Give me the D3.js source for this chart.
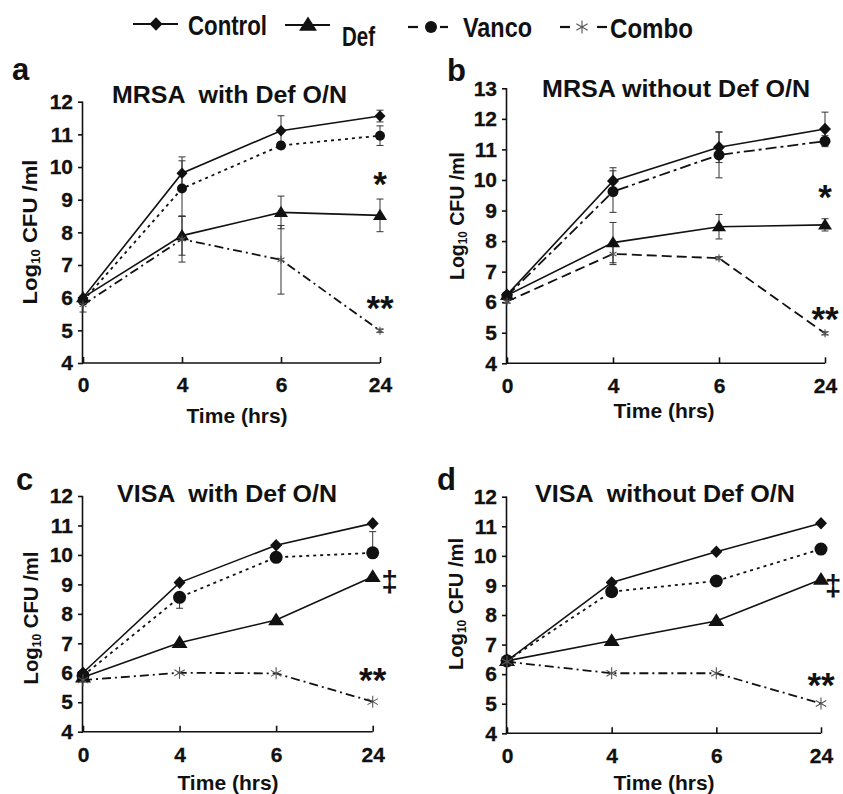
<!DOCTYPE html>
<html>
<head>
<meta charset="utf-8">
<script src="https://cdn.jsdelivr.net/npm/d3@7"></script>
<style>
  html, body { margin: 0; padding: 0; background: #fff; }
  svg text { font-family: "Liberation Sans", Arial, "Helvetica", sans-serif; font-weight: bold; fill: #111; }
</style>
</head>
<body>
<svg id="chart" width="843" height="794"></svg>
<script>
// ---------- data ----------
const times = ["0", "4", "6", "24"];
const seriesNames = ["Control", "Def", "Vanco", "Combo"];

// Panel a: MRSA with Def O/N
const aControl = [5.99, 9.81, 11.11, 11.56];
const aControlErr = [0.05, 0.5, 0.46, 0.18];
const aDef = [6.0, 7.9, 8.61, 8.52];
const aDefErr = [0.05, 0.6, 0.5, 0.5];
const aVanco = [5.9, 9.34, 10.66, 10.96];
const aVancoErr = [0.05, 0.85, 0.1, 0.3];
const aCombo = [5.78, 7.79, 7.16, 4.99];
const aComboErr = [0.22, 0.7, 1.05, 0.05];

// Panel b: MRSA without Def O/N
const bControl = [6.24, 9.97, 11.07, 11.67];
const bControlErr = [0.05, 0.43, 0.5, 0.55];
const bDef = [6.22, 7.95, 8.47, 8.53];
const bDefErr = [0.05, 0.66, 0.4, 0.2];
const bVanco = [6.2, 9.62, 10.82, 11.27];
const bVancoErr = [0.05, 0.68, 0.75, 0.18];
const bCombo = [6.02, 7.58, 7.44, 4.98];
const bComboErr = [0.05, 0.35, 0.05, 0.05];

// Panel c: VISA with Def O/N
const cControl = [6.0, 9.06, 10.33, 11.07];
const cDef = [5.85, 7.02, 7.79, 9.26];
const cVanco = [5.9, 8.56, 9.92, 10.07];
const cVancoErrUp = [0, 0, 0, 0.72];
const cVancoErrDown = [0, 0.37, 0, 0];
const cCombo = [5.75, 6.0, 5.98, 5.02];

// Panel d: VISA without Def O/N
const dControl = [6.45, 9.1, 10.14, 11.1];
const dDef = [6.45, 7.13, 7.8, 9.2];
const dVanco = [6.45, 8.79, 9.15, 10.23];
const dCombo = [6.42, 6.03, 6.03, 5.01];

const yTicksA = [4, 5, 6, 7, 8, 9, 10, 11, 12];
const yTicksB = [4, 5, 6, 7, 8, 9, 10, 11, 12, 13];

const panelLetters = ["a", "b", "c", "d"];
const panelTitles = ["MRSA  with Def O/N", "MRSA without Def O/N", "VISA  with Def O/N", "VISA  without Def O/N"];
const xTitle = "Time (hrs)";

// annotations: [time, value, text]
const aNotes = [["24", 9.6, "*"], ["24", 5.8, "**"]];
const bNotes = [["24", 9.57, "*"], ["24", 5.58, "**"]];
const cNotes = [["24", 9.08, "\u2021"], ["24", 5.89, "**"]];
const dNotes = [["24", 8.98, "\u2021"], ["24", 5.77, "**"]];

// ---------- layout ----------
const panels = [
  { letter: panelLetters[0], title: panelTitles[0], x0: 83, x1: 380, yTop: 101.7, yBot: 363, yMax: 12, ticks: yTicksA,
    letterPos: [12, 80], titlePos: [229.5, 103], titleLen: 235, ylabPos: [30, 232], ylabLen: 145, xlabPos: [237, 423], tickLabDy: 29,
    mk: { d: 5.5, r: 5, t: 7, s: 4 }, notes: aNotes, dagDx: 14,
    series: [
      { name: "Control", v: aControl, err: aControlErr, dash: null },
      { name: "Def", v: aDef, err: aDefErr, dash: null },
      { name: "Vanco", v: aVanco, err: aVancoErr, dash: "3,4" },
      { name: "Combo", v: aCombo, err: aComboErr, dash: "9,4,2,4" }
    ] },
  { letter: panelLetters[1], title: panelTitles[1], x0: 507, x1: 825, yTop: 88.3, yBot: 363.3, yMax: 13, ticks: yTicksB,
    letterPos: [447, 81], titlePos: [676, 97], titleLen: 268, ylabPos: [457, 216], ylabLen: 128, xlabPos: [664, 418], tickLabDy: 30,
    mk: { d: 6, r: 5.5, t: 7, s: 4 }, notes: bNotes, dagDx: 14,
    series: [
      { name: "Control", v: bControl, err: bControlErr, dash: null },
      { name: "Def", v: bDef, err: bDefErr, dash: null },
      { name: "Vanco", v: bVanco, err: bVancoErr, dash: "11,4,3,4" },
      { name: "Combo", v: bCombo, err: bComboErr, dash: "10,5" }
    ] },
  { letter: panelLetters[2], title: panelTitles[2], x0: 83, x1: 372.7, yTop: 496, yBot: 731.7, yMax: 12, ticks: yTicksA,
    letterPos: [16, 490], titlePos: [227, 502], titleLen: 220, ylabPos: [31, 618], ylabLen: 133, xlabPos: [228, 790], tickLabDy: 30,
    mk: { d: 6, r: 6.5, t: 8, s: 6 }, notes: cNotes, dagDx: 17,
    series: [
      { name: "Control", v: cControl, dash: null },
      { name: "Def", v: cDef, dash: null },
      { name: "Vanco", v: cVanco, errUp: cVancoErrUp, errDown: cVancoErrDown, dash: "3,4" },
      { name: "Combo", v: cCombo, dash: "9,4,2,4" }
    ] },
  { letter: panelLetters[3], title: panelTitles[3], x0: 507, x1: 821, yTop: 496.7, yBot: 733.3, yMax: 12, ticks: yTicksA,
    letterPos: [437, 490], titlePos: [665, 502], titleLen: 260, ylabPos: [456, 604], ylabLen: 132, xlabPos: [664, 790], tickLabDy: 30,
    mk: { d: 6, r: 6.5, t: 8, s: 6 }, notes: dNotes, dagDx: 12,
    series: [
      { name: "Control", v: dControl, dash: null },
      { name: "Def", v: dDef, dash: null },
      { name: "Vanco", v: dVanco, dash: "3,4" },
      { name: "Combo", v: dCombo, dash: "9,4,2,4" }
    ] }
];

const svg = d3.select("#chart");
const INK = "#111";

function drawMarker(g, name, cx, cy, mk) {
  if (name === "Control") {
    const w = mk.d, h = mk.d * 1.05;
    g.append("path").attr("d", `M${cx},${cy - h}L${cx + w},${cy}L${cx},${cy + h}L${cx - w},${cy}Z`).attr("fill", INK);
  } else if (name === "Def") {
    const t = mk.t;
    g.append("path").attr("d", `M${cx},${cy - t * 0.95}L${cx + t},${cy + t * 0.65}L${cx - t},${cy + t * 0.65}Z`).attr("fill", INK);
  } else if (name === "Vanco") {
    g.append("circle").attr("cx", cx).attr("cy", cy).attr("r", mk.r).attr("fill", INK);
  } else {
    const s = mk.s;
    const p = [];
    [90, 30, 150].forEach(a => {
      const rad = a * Math.PI / 180;
      const dx = Math.cos(rad) * s, dy = Math.sin(rad) * s;
      p.push(`M${cx - dx},${cy - dy}L${cx + dx},${cy + dy}`);
    });
    g.append("path").attr("d", p.join("")).attr("stroke", "#555").attr("stroke-width", 1.1).attr("fill", "none");
  }
}

panels.forEach(P => {
  const g = svg.append("g");
  const x = d3.scalePoint().domain(times).range([P.x0, P.x1]);
  const y = d3.scaleLinear().domain([4, P.yMax]).range([P.yBot, P.yTop]);

  // y axis
  const yAxis = d3.axisLeft(y).tickValues(P.ticks).tickSize(5).tickPadding(5).tickFormat(d3.format("d"));
  const ya = g.append("g").attr("transform", `translate(${P.x0},0)`).call(yAxis);
  ya.select(".domain").attr("d", `M-0.5,${P.yBot}V${P.yTop}`).attr("stroke", INK).attr("stroke-width", 1.6);
  ya.selectAll(".tick line").attr("stroke", INK).attr("stroke-width", 1.6);
  ya.selectAll(".tick text").attr("font-size", 21).attr("font-family", "Liberation Sans, Arial, sans-serif").attr("font-weight", "bold").attr("fill", INK)
    .attr("stroke", INK).attr("stroke-width", 0.3);

  // x axis
  const xAxis = d3.axisBottom(x).tickSize(-6).tickPadding(0).tickFormat(d => d);
  const xa = g.append("g").attr("transform", `translate(0,${P.yBot})`).call(xAxis);
  xa.select(".domain").attr("d", `M${P.x0 - 1},0H${P.x1}`).attr("stroke", INK).attr("stroke-width", 1.6);
  xa.selectAll(".tick line").attr("stroke", INK).attr("stroke-width", 1.6);
  xa.selectAll(".tick text").attr("font-size", 21).attr("font-family", "Liberation Sans, Arial, sans-serif").attr("font-weight", "bold").attr("fill", INK)
    .attr("stroke", INK).attr("stroke-width", 0.3)
    .attr("y", P.tickLabDy).attr("dy", 0);

  // lines
  P.series.forEach(s => {
    const line = d3.line().x((d, i) => x(times[i])).y(d => y(d));
    g.append("path").datum(s.v).attr("d", line).attr("fill", "none")
      .attr("stroke", INK).attr("stroke-width", s.dash ? 1.8 : 1.6)
      .attr("stroke-dasharray", s.dash);
  });

  // error bars
  P.series.forEach(s => {
    const up = s.errUp || s.err;
    const dn = s.errDown || s.err;
    if (!up) return;
    s.v.forEach((v, i) => {
      const cx = x(times[i]);
      const e1 = up[i], e2 = dn[i];
      if (e1 <= 0 && e2 <= 0) return;
      const yt = y(v + e1), yb = y(v - e2);
      g.append("line").attr("x1", cx).attr("x2", cx).attr("y1", yt).attr("y2", yb).attr("stroke", "#333").attr("stroke-width", 1);
      if (e1 > 0) g.append("line").attr("x1", cx - 3.5).attr("x2", cx + 3.5).attr("y1", yt).attr("y2", yt).attr("stroke", "#333").attr("stroke-width", 1);
      if (e2 > 0) g.append("line").attr("x1", cx - 3.5).attr("x2", cx + 3.5).attr("y1", yb).attr("y2", yb).attr("stroke", "#333").attr("stroke-width", 1);
    });
  });

  // markers
  P.series.forEach(s => {
    s.v.forEach((v, i) => drawMarker(g, s.name, x(times[i]), y(v), P.mk));
  });

  // annotations
  P.notes.forEach(n => {
    const isDag = n[2] === "\u2021";
    g.append("text").attr("x", x(n[0]) + (isDag ? P.dagDx : 0)).attr("y", y(n[1]))
      .attr("text-anchor", "middle")
      .attr("dy", isDag ? "0.32em" : "0.45em")
      .attr("font-size", isDag ? 30 : 35)
      .text(n[2]);
  });

  // panel letter
  g.append("text").attr("x", P.letterPos[0]).attr("y", P.letterPos[1]).attr("font-size", 31).text(P.letter);
  // title
  g.append("text").attr("x", P.titlePos[0]).attr("y", P.titlePos[1]).attr("text-anchor", "middle")
    .attr("font-size", 24.5).attr("textLength", P.titleLen).attr("lengthAdjust", "spacingAndGlyphs")
    .attr("xml:space", "preserve").style("white-space", "pre").text(P.title);
  // x label
  g.append("text").attr("x", P.xlabPos[0]).attr("y", P.xlabPos[1]).attr("text-anchor", "middle")
    .attr("font-size", 21).text(xTitle);
  // y label
  const yl = g.append("text").attr("transform", `translate(${P.ylabPos[0] + 7},${P.ylabPos[1]}) rotate(-90)`)
    .attr("text-anchor", "middle").attr("font-size", 21)
    .attr("textLength", P.ylabLen).attr("lengthAdjust", "spacingAndGlyphs");
  yl.append("tspan").text("Log");
  yl.append("tspan").attr("font-size", 12.5).attr("dy", 3).text("10");
  yl.append("tspan").attr("dy", -3).text(" CFU /ml");
});

// ---------- legend ----------
const legend = svg.append("g");
const legendItems = [
  { name: seriesNames[0], line: [[133, 178]], mx: 156, my: 24, tx: 188, ty: 35, tl: 79 },
  { name: seriesNames[1], line: [[285, 330]], mx: 308, my: 25, tx: 342, ty: 46, tl: 33 },
  { name: seriesNames[2], line: [[408, 418], [440, 448]], mx: 431, my: 27, tx: 463, ty: 37, tl: 69 },
  { name: seriesNames[3], line: [[560, 570], [597, 607]], mx: 582, my: 27, tx: 610, ty: 38, tl: 83 }
];
legendItems.forEach(L => {
  L.line.forEach(seg => {
    legend.append("line").attr("x1", seg[0]).attr("x2", seg[1]).attr("y1", L.my).attr("y2", L.my)
      .attr("stroke", INK).attr("stroke-width", 2.2);
  });
  drawMarker(legend, L.name, L.mx, L.my, { d: 6.5, r: 6, t: 9, s: 6.5 });
  legend.append("text").attr("x", L.tx).attr("y", L.ty).attr("font-size", 28)
    .attr("textLength", L.tl).attr("lengthAdjust", "spacingAndGlyphs").text(L.name);
});
</script>
</body>
</html>
